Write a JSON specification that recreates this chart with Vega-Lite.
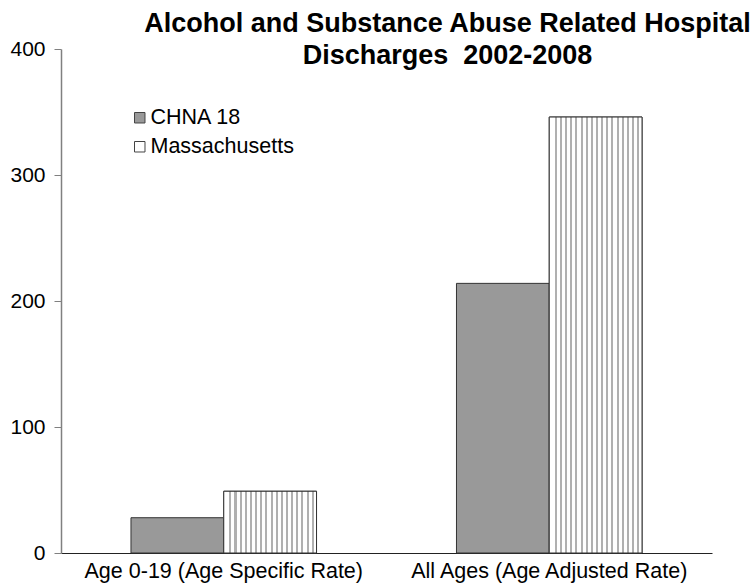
{
  "$schema": "https://vega.github.io/schema/vega-lite/v6.json",
  "autosize": {"type": "none"},
  "padding": {"top": 49, "left": 61, "right": 40, "bottom": 31},
  "width": 651,
  "height": 504,
  "background": "white",
  "title": {
    "text": ["Alcohol and Substance Abuse Related Hospital", "Discharges \u00a02002-2008"],
    "font": "Liberation Sans",
    "fontSize": 27,
    "fontWeight": "bold",
    "color": "black",
    "anchor": "middle",
    "frame": "group",
    "baseline": "bottom",
    "lineHeight": 32,
    "dx": 61,
    "offset": -59
  },
  "data": {
    "values": [
      {"group": "Age 0-19 (Age Specific Rate)", "region": "CHNA 18", "value": 28},
      {"group": "Age 0-19 (Age Specific Rate)", "region": "Massachusetts", "value": 49},
      {"group": "All Ages (Age Adjusted Rate)", "region": "CHNA 18", "value": 214},
      {"group": "All Ages (Age Adjusted Rate)", "region": "Massachusetts", "value": 346}
    ]
  },
  "encoding": {
    "x": {
      "field": "group",
      "type": "nominal",
      "sort": null,
      "title": null,
      "scale": {"paddingInner": 0.43, "paddingOuter": 0.215},
      "axis": {
        "labelAngle": 0,
        "labelFont": "Liberation Sans",
        "labelFontSize": 21.5,
        "labelLimit": 0,
        "labelColor": "black",
        "labelPadding": 7,
        "ticks": false,
        "domainColor": "#222222",
        "domainWidth": 1
      }
    },
    "xOffset": {
      "field": "region",
      "type": "nominal",
      "sort": ["CHNA 18", "Massachusetts"],
      "scale": {"paddingInner": 0, "paddingOuter": 0}
    },
    "y": {
      "field": "value",
      "type": "quantitative",
      "title": null,
      "scale": {"domain": [0, 400], "nice": false},
      "axis": {
        "values": [0, 100, 200, 300, 400],
        "grid": false,
        "labelFont": "Liberation Sans",
        "labelFontSize": 21,
        "labelColor": "black",
        "labelPadding": 9,
        "tickSize": 7,
        "tickColor": "#808080",
        "domainColor": "#808080",
        "domainWidth": 1.5
      }
    }
  },
  "layer": [
    {
      "mark": {"type": "bar", "stroke": "#333333", "strokeWidth": 1},
      "encoding": {
        "fill": {
          "field": "region",
          "type": "nominal",
          "sort": ["CHNA 18", "Massachusetts"],
          "scale": {"range": ["#999999", "#ffffff"]},
          "legend": {
            "title": null,
            "orient": "none",
            "legendX": 68,
            "legendY": 58,
            "symbolType": "square",
            "symbolSize": 110,
            "symbolStrokeColor": "#444444",
            "symbolStrokeWidth": 1,
            "symbolOpacity": 1,
            "labelFont": "Liberation Sans",
            "labelFontSize": 21.5,
            "labelColor": "black",
            "labelOffset": 0,
            "rowPadding": 6,
            "encode": {
              "symbols": {
                "enter": {
                  "fill": [
                    {
                      "test": "datum.label === 'Massachusetts'",
                      "value": {
                        "gradient": "linear", "x1": 0, "y1": 0, "x2": 1, "y2": 0,
                        "stops": [
                          {"offset": 0, "color": "#ffffff"},
                          {"offset": 0.3, "color": "#ffffff"},
                          {"offset": 0.3, "color": "#a0a0a0"},
                          {"offset": 0.4, "color": "#a0a0a0"},
                          {"offset": 0.4, "color": "#ffffff"},
                          {"offset": 0.62, "color": "#ffffff"},
                          {"offset": 0.62, "color": "#a0a0a0"},
                          {"offset": 0.72, "color": "#a0a0a0"},
                          {"offset": 0.72, "color": "#ffffff"},
                          {"offset": 1, "color": "#ffffff"}
                        ]
                      }
                    },
                    {"value": "#999999"}
                  ]
                },
                "update": {
                  "stroke": {"value": "#444444"},
                  "strokeWidth": {"value": 1},
                  "fill": [
                    {
                      "test": "datum.label === 'Massachusetts'",
                      "value": {
                        "gradient": "linear", "x1": 0, "y1": 0, "x2": 1, "y2": 0,
                        "stops": [
                          {"offset": 0, "color": "#ffffff"},
                          {"offset": 0.3, "color": "#ffffff"},
                          {"offset": 0.3, "color": "#a0a0a0"},
                          {"offset": 0.4, "color": "#a0a0a0"},
                          {"offset": 0.4, "color": "#ffffff"},
                          {"offset": 0.62, "color": "#ffffff"},
                          {"offset": 0.62, "color": "#a0a0a0"},
                          {"offset": 0.72, "color": "#a0a0a0"},
                          {"offset": 0.72, "color": "#ffffff"},
                          {"offset": 1, "color": "#ffffff"}
                        ]
                      }
                    },
                    {"value": "#999999"}
                  ]
                }
              }
            }
          }
        }
      }
    },
    {
      "transform": [{"filter": "datum.region === 'Massachusetts'"}],
      "mark": {
        "type": "bar",
        "stroke": "#333333",
        "strokeWidth": 1,
        "fill": {
          "gradient": "linear", "x1": 0, "y1": 0, "x2": 1, "y2": 0,
          "stops": [
            {"offset": 0, "color": "#ffffff"},
            {"offset": 0.060, "color": "#ffffff"}, {"offset": 0.060, "color": "#b0b0b0"}, {"offset": 0.082, "color": "#b0b0b0"}, {"offset": 0.082, "color": "#ffffff"},
            {"offset": 0.1155, "color": "#ffffff"}, {"offset": 0.1155, "color": "#b0b0b0"}, {"offset": 0.1375, "color": "#b0b0b0"}, {"offset": 0.1375, "color": "#ffffff"},
            {"offset": 0.171, "color": "#ffffff"}, {"offset": 0.171, "color": "#b0b0b0"}, {"offset": 0.193, "color": "#b0b0b0"}, {"offset": 0.193, "color": "#ffffff"},
            {"offset": 0.2265, "color": "#ffffff"}, {"offset": 0.2265, "color": "#b0b0b0"}, {"offset": 0.2485, "color": "#b0b0b0"}, {"offset": 0.2485, "color": "#ffffff"},
            {"offset": 0.282, "color": "#ffffff"}, {"offset": 0.282, "color": "#b0b0b0"}, {"offset": 0.304, "color": "#b0b0b0"}, {"offset": 0.304, "color": "#ffffff"},
            {"offset": 0.3375, "color": "#ffffff"}, {"offset": 0.3375, "color": "#b0b0b0"}, {"offset": 0.3595, "color": "#b0b0b0"}, {"offset": 0.3595, "color": "#ffffff"},
            {"offset": 0.393, "color": "#ffffff"}, {"offset": 0.393, "color": "#b0b0b0"}, {"offset": 0.415, "color": "#b0b0b0"}, {"offset": 0.415, "color": "#ffffff"},
            {"offset": 0.4485, "color": "#ffffff"}, {"offset": 0.4485, "color": "#b0b0b0"}, {"offset": 0.4705, "color": "#b0b0b0"}, {"offset": 0.4705, "color": "#ffffff"},
            {"offset": 0.504, "color": "#ffffff"}, {"offset": 0.504, "color": "#b0b0b0"}, {"offset": 0.526, "color": "#b0b0b0"}, {"offset": 0.526, "color": "#ffffff"},
            {"offset": 0.5595, "color": "#ffffff"}, {"offset": 0.5595, "color": "#b0b0b0"}, {"offset": 0.5815, "color": "#b0b0b0"}, {"offset": 0.5815, "color": "#ffffff"},
            {"offset": 0.615, "color": "#ffffff"}, {"offset": 0.615, "color": "#b0b0b0"}, {"offset": 0.637, "color": "#b0b0b0"}, {"offset": 0.637, "color": "#ffffff"},
            {"offset": 0.6705, "color": "#ffffff"}, {"offset": 0.6705, "color": "#b0b0b0"}, {"offset": 0.6925, "color": "#b0b0b0"}, {"offset": 0.6925, "color": "#ffffff"},
            {"offset": 0.726, "color": "#ffffff"}, {"offset": 0.726, "color": "#b0b0b0"}, {"offset": 0.748, "color": "#b0b0b0"}, {"offset": 0.748, "color": "#ffffff"},
            {"offset": 0.7815, "color": "#ffffff"}, {"offset": 0.7815, "color": "#b0b0b0"}, {"offset": 0.8035, "color": "#b0b0b0"}, {"offset": 0.8035, "color": "#ffffff"},
            {"offset": 0.837, "color": "#ffffff"}, {"offset": 0.837, "color": "#b0b0b0"}, {"offset": 0.859, "color": "#b0b0b0"}, {"offset": 0.859, "color": "#ffffff"},
            {"offset": 0.8925, "color": "#ffffff"}, {"offset": 0.8925, "color": "#b0b0b0"}, {"offset": 0.9145, "color": "#b0b0b0"}, {"offset": 0.9145, "color": "#ffffff"},
            {"offset": 0.948, "color": "#ffffff"}, {"offset": 0.948, "color": "#b0b0b0"}, {"offset": 0.970, "color": "#b0b0b0"}, {"offset": 0.970, "color": "#ffffff"},
            {"offset": 1, "color": "#ffffff"}
          ]
        }
      }
    }
  ],
  "config": {
    "view": {"stroke": null},
    "axis": {"labelFont": "Liberation Sans"}
  }
}
